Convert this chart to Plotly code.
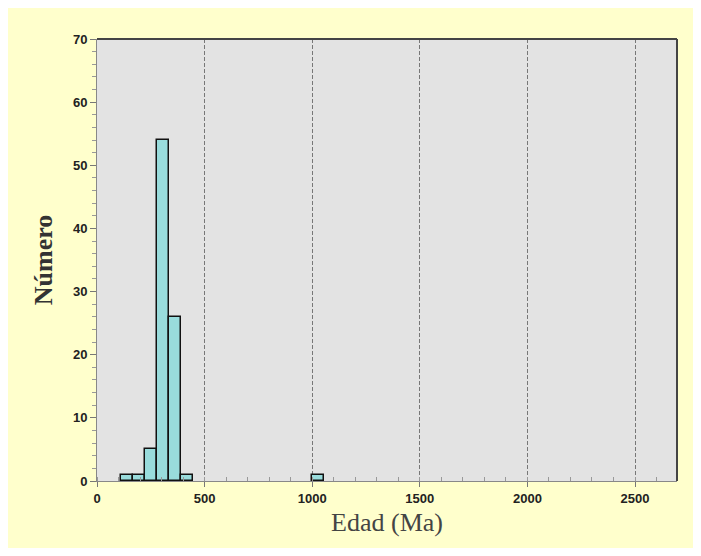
import plotly.graph_objects as go

# histogram bins (Ma) and counts
bin_starts = [111, 166.5, 222, 277.5, 333, 388.5, 999]
bin_width = 55.5
counts = [1, 1, 5, 54, 26, 1, 1]

x_ticks = [0, 500, 1000, 1500, 2000, 2500]
y_ticks = [0, 10, 20, 30, 40, 50, 60, 70]

centers = [s + bin_width / 2 for s in bin_starts]

tick_font = dict(family='Liberation Sans, Arial', size=13, color='#222', weight='bold')

fig = go.Figure()
fig.add_trace(
    go.Bar(
        x=centers, y=counts, width=bin_width,
        marker=dict(color='#99DCDC', line=dict(color='#111111', width=1.5)),
        showlegend=False,
    )
)

fig.update_layout(
    width=701, height=540,
    margin=dict(l=89, r=32, t=31, b=67),
    paper_bgcolor='#FFFFCC',
    plot_bgcolor='#E3E3E3',
    bargap=0,
    xaxis=dict(
        range=[0, 2695], tickvals=x_ticks, ticks='outside', ticklen=5,
        tickcolor='#777', linecolor='#888', linewidth=1,
        showgrid=True, gridcolor='#777', griddash='4px,2px', gridwidth=1,
        minor=dict(dtick=100, ticks='inside', ticklen=4, tickcolor='#999', showgrid=False),
        tickfont=tick_font,
        title=dict(text='Edad (Ma)', font=dict(family='Liberation Serif, Times New Roman', size=26, color='#444'), standoff=8),
        zeroline=False,
    ),
    yaxis=dict(
        range=[0, 70], tickvals=y_ticks, ticks='outside', ticklen=6,
        tickcolor='#777', linecolor='#888', linewidth=1,
        showgrid=False,
        minor=dict(dtick=2, ticks='outside', ticklen=4, tickcolor='#999'),
        tickfont=tick_font,
        title=dict(text='<b>Número</b>', font=dict(family='Liberation Serif, Times New Roman', size=26, color='#333'), standoff=12),
        zeroline=False,
    ),
    shapes=[
        dict(type='line', xref='paper', yref='paper', x0=0, x1=1, y0=1, y1=1, line=dict(color='#444', width=2)),
        dict(type='line', xref='paper', yref='paper', x0=1, x1=1, y0=0, y1=1, line=dict(color='#444', width=2)),
    ],
)

fig.write_html("out.html")
